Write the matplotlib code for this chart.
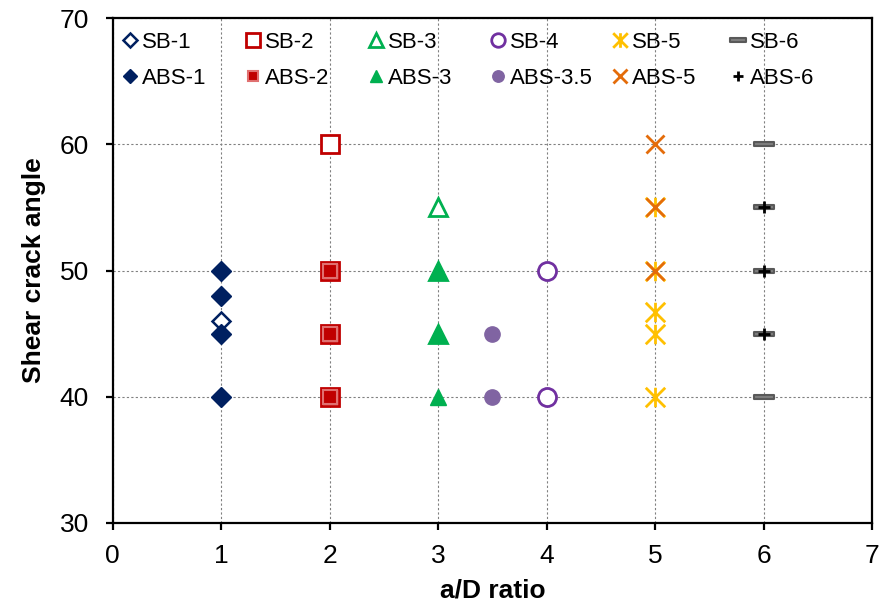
import matplotlib
matplotlib.use("Agg")
import matplotlib.pyplot as plt
from matplotlib.path import Path
from matplotlib.legend import Legend

plt.rcParams['font.family'] = ['Liberation Sans', 'DejaVu Sans']

# data
sb1_x, sb1_y = [1], [46]
sb2_x, sb2_y = [2, 2, 2, 2], [60, 50, 45, 40]
sb3_x, sb3_y = [3, 3, 3], [55, 50, 45]
sb4_x, sb4_y = [4, 4], [50, 40]
sb5_x, sb5_y = [5, 5, 5, 5, 5], [55, 50, 46.7, 45, 40]
sb6_x, sb6_y = [6, 6, 6, 6, 6], [60, 55, 50, 45, 40]
abs1_x, abs1_y = [1, 1, 1, 1], [50, 48, 45, 40]
abs2_x, abs2_y = [2, 2, 2], [50, 45, 40]
abs3_x, abs3_y = [3, 3, 3], [50, 45, 40]
abs35_x, abs35_y = [3.5, 3.5], [45, 40]
abs5_x, abs5_y = [5, 5, 5], [60, 55, 50]
abs6_x, abs6_y = [6, 6, 6], [55, 50, 45]

# excel-like star (x with a vertical bar) and dash markers
star = Path([(-1, -1), (1, 1), (-1, 1), (1, -1), (0, -1), (0, 1)],
            [Path.MOVETO, Path.LINETO] * 3)
dash = Path([(-1, -0.22), (1, -0.22), (1, 0.22), (-1, 0.22), (-1, -0.22)],
            [Path.MOVETO, Path.LINETO, Path.LINETO, Path.LINETO, Path.CLOSEPOLY])

fig = plt.figure(figsize=(8.82, 6.07), dpi=100)
ax = fig.add_axes([0.1278, 0.1384, 0.8609, 0.8319])

h = {}
h['SB-1'], = ax.plot(sb1_x, sb1_y, ls='none', marker='D', ms=9, mfc='white', mec='#002060', mew=1.8)
h['SB-2'], = ax.plot(sb2_x, sb2_y, ls='none', marker='s', ms=13, mfc='white', mec='#C00000', mew=2)
h['SB-3'], = ax.plot(sb3_x, sb3_y, ls='none', marker='^', ms=13, mfc='white', mec='#00B050', mew=2)
h['SB-4'], = ax.plot(sb4_x, sb4_y, ls='none', marker='o', ms=13, mfc='white', mec='#7030A0', mew=2)
h['SB-5'], = ax.plot(sb5_x, sb5_y, ls='none', marker=star, ms=14, mec='#FFC000', mew=2)
h['SB-6'], = ax.plot(sb6_x, sb6_y, ls='none', marker=dash, ms=15, mfc='#7F7F7F', mec='#595959', mew=1.5)
h['ABS-1'], = ax.plot(abs1_x, abs1_y, ls='none', marker='D', ms=10, mfc='#002060', mec='#002060', mew=1)
h['ABS-2'], = ax.plot(abs2_x, abs2_y, ls='none', marker='s', ms=10.5, mfc='#C00000', mec='#E07070', mew=1.5)
h['ABS-3'], = ax.plot(abs3_x, abs3_y, ls='none', marker='^', ms=11, mfc='#00B050', mec='#00B050', mew=1)
h['ABS-3.5'], = ax.plot(abs35_x, abs35_y, ls='none', marker='o', ms=11, mfc='#8064A2', mec='#8064A2', mew=1)
h['ABS-5'], = ax.plot(abs5_x, abs5_y, ls='none', marker='x', ms=13, mec='#E46C0A', mew=2)
h['ABS-6'], = ax.plot(abs6_x, abs6_y, ls='none', marker='+', ms=9, mec='black', mew=2)

ax.set_xlim(0, 7)
ax.set_ylim(30, 70)
ax.set_xticks(range(0, 8))
ax.set_yticks(range(30, 80, 10))
ax.grid(True, color='#808080', ls=(0, (2, 2)), lw=0.8)
ax.set_axisbelow(True)
for s in ax.spines.values():
    s.set_linewidth(1.6)
ax.tick_params(direction='out', length=5, width=1.6, labelsize=19)
ax.tick_params(axis='x', pad=10)
ax.tick_params(axis='y', pad=12)

ax.set_xlabel('a/D ratio', fontsize=19, fontweight='bold', labelpad=8)
ax.set_ylabel('Shear crack angle', fontsize=19, fontweight='bold', labelpad=10)

# six two-row legend columns, evenly spaced like the excel legend
cols = [('SB-1', 'ABS-1'), ('SB-2', 'ABS-2'), ('SB-3', 'ABS-3'),
        ('SB-4', 'ABS-3.5'), ('SB-5', 'ABS-5'), ('SB-6', 'ABS-6')]
col_x = [0.011, 0.173, 0.335, 0.496, 0.656, 0.812]
for (a, b), x in zip(cols, col_x):
    leg = Legend(ax, [h[a], h[b]], [a, b], loc='center left', bbox_to_anchor=(x, 0.916),
                 frameon=False, fontsize=16, borderpad=0, borderaxespad=0,
                 handlelength=0.8, handletextpad=0.15, labelspacing=0.68,
                 markerscale=0.75)
    ax.add_artist(leg)

plt.savefig('out.png', dpi=100)
